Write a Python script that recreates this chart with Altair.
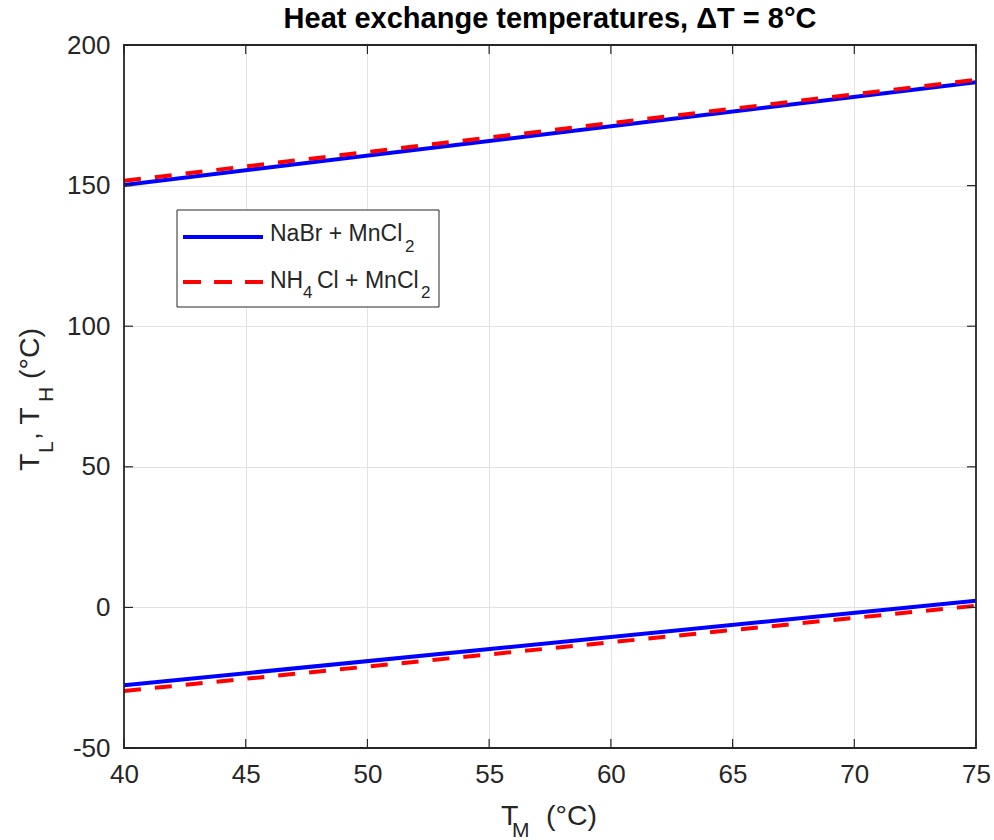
import altair as alt
import pandas as pd

# ---- data ----
tm = [40, 75]
nabr_high = [150.2, 186.8]
nabr_low = [-27.7, 2.4]
nh4cl_high = [151.7, 187.6]
nh4cl_low = [-29.7, 0.6]

x_ticks = [40, 45, 50, 55, 60, 65, 70, 75]
y_ticks = [-50, 0, 50, 100, 150, 200]

W, H = 852, 703
FONT = "Liberation Sans"
TXT = "#262626"

rows = []
for name, hi, lo in [("NaBr", nabr_high, nabr_low), ("NH4Cl", nh4cl_high, nh4cl_low)]:
    for x, y in zip(tm, hi):
        rows.append({"series": name, "branch": "high", "tm": x, "t": y})
    for x, y in zip(tm, lo):
        rows.append({"series": name, "branch": "low", "tm": x, "t": y})
df = pd.DataFrame(rows)

xscale = alt.Scale(domain=[40, 75], nice=False, zero=False)
yscale = alt.Scale(domain=[-50, 200], nice=False, zero=False)

xaxis = alt.Axis(values=x_ticks, title=None, ticks=False, tickSize=0, domain=False,
                 grid=True, gridColor="#e3e3e3", gridWidth=1, labelFlush=False,
                 labelFont=FONT, labelFontSize=26, labelColor=TXT, labelPadding=13,
                 labelExpr="toString(datum.value)")
yaxis = alt.Axis(values=y_ticks, title=None, ticks=False, tickSize=0, domain=False,
                 grid=True, gridColor="#e3e3e3", gridWidth=1, labelFlush=False,
                 labelFont=FONT, labelFontSize=26, labelColor=TXT, labelPadding=14,
                 labelExpr="toString(datum.value)")

base = alt.Chart(df).encode(
    x=alt.X("tm:Q", scale=xscale, axis=xaxis),
    y=alt.Y("t:Q", scale=yscale, axis=yaxis),
    detail="branch:N",
)

blue = base.transform_filter(alt.datum.series == "NaBr").mark_line(
    color="#0000ff", strokeWidth=4, clip=True)
red = base.transform_filter(alt.datum.series == "NH4Cl").mark_line(
    color="#ff0000", strokeWidth=4, strokeDash=[17, 14], clip=True)

# inward ticks (box style)
xt = pd.DataFrame({"v": x_ticks})
yt = pd.DataFrame({"v": y_ticks})
tick_style = dict(color=TXT, strokeWidth=1.2)
xt_bot = alt.Chart(xt).mark_rule(**tick_style).encode(
    x=alt.X("v:Q", scale=xscale), y=alt.value(H), y2=alt.value(H - 9))
xt_top = alt.Chart(xt).mark_rule(**tick_style).encode(
    x=alt.X("v:Q", scale=xscale), y=alt.value(0), y2=alt.value(9))
yt_left = alt.Chart(yt).mark_rule(**tick_style).encode(
    y=alt.Y("v:Q", scale=yscale), x=alt.value(0), x2=alt.value(9))
yt_right = alt.Chart(yt).mark_rule(**tick_style).encode(
    y=alt.Y("v:Q", scale=yscale), x=alt.value(W), x2=alt.value(W - 9))

one = pd.DataFrame({"a": [0]})

frame = alt.Chart(one).mark_rect(fillOpacity=0, stroke=TXT, strokeWidth=1.8).encode(
    x=alt.value(0), x2=alt.value(W), y=alt.value(0), y2=alt.value(H))


def txt(s, x, y, size, angle=0, weight="normal", align="left", color=TXT):
    kw = dict(text=s, font=FONT, fontSize=size, color=color, align=align,
              baseline="alphabetic", fontWeight=weight)
    if angle:
        kw["angle"] = angle
    return alt.Chart(one).mark_text(**kw).encode(x=alt.value(x), y=alt.value(y))


# title
title = txt("Heat exchange temperatures, \u0394T = 8\u00b0C", W / 2, -17, 29,
            weight="bold", align="center", color="#000000")

# x-axis title  T_M (°C)
xt1 = txt("T", 501 - 124, 825 - 45, 28.5)
xt2 = txt("M", 512 - 124, 837 - 45, 21)
xt3 = txt("(\u00b0C)", 546 - 124, 825 - 45, 28.5)

# y-axis title  T_L, T_H (°C)  rotated
yx_main = 39 - 124
yx_sub = 53 - 124
yt1 = txt("T", yx_main, 471 - 45, 28.5, angle=270)
yt2 = txt("L", yx_sub, 453 - 45, 21, angle=270)
yt3 = txt(", T", yx_main, 440 - 45, 28.5, angle=270)
yt4 = txt("H", yx_sub, 402 - 45, 21, angle=270)
yt5 = txt("(\u00b0C)", yx_main, 379 - 45, 28.5, angle=270)

# legend box
leg_box = alt.Chart(one).mark_rect(fill="white", stroke=TXT, strokeWidth=1).encode(
    x=alt.value(177 - 124), x2=alt.value(439 - 124),
    y=alt.value(210 - 45), y2=alt.value(307 - 45))
leg_blue = alt.Chart(one).mark_rule(color="#0000ff", strokeWidth=4).encode(
    x=alt.value(183 - 124), x2=alt.value(263 - 124), y=alt.value(237 - 45))
leg_red = alt.Chart(one).mark_rule(color="#ff0000", strokeWidth=4, strokeDash=[18, 13]).encode(
    x=alt.value(183 - 124), x2=alt.value(263 - 124), y=alt.value(282 - 45))
l1a = txt("NaBr + MnCl", 270 - 124, 241 - 45, 23)
l1b = txt("2", 405 - 124, 252 - 45, 17)
l2a = txt("NH", 270 - 124, 288 - 45, 23)
l2b = txt("4", 303 - 124, 298 - 45, 17)
l2c = txt("Cl + MnCl", 317 - 124, 288 - 45, 23)
l2d = txt("2", 421 - 124, 298 - 45, 17)

chart = alt.layer(
    blue, red, frame, xt_bot, xt_top, yt_left, yt_right,
    title, xt1, xt2, xt3, yt1, yt2, yt3, yt4, yt5,
    leg_box, leg_blue, leg_red, l1a, l1b, l2a, l2b, l2c, l2d,
).properties(
    width=W, height=H,
    autosize=alt.AutoSizeParams(type="none"),
    padding={"left": 124, "top": 45, "right": 18, "bottom": 92},
).configure_view(
    stroke=None
).configure(background="white")

chart.save("out.html", embed_options={"renderer": "svg", "actions": False})
